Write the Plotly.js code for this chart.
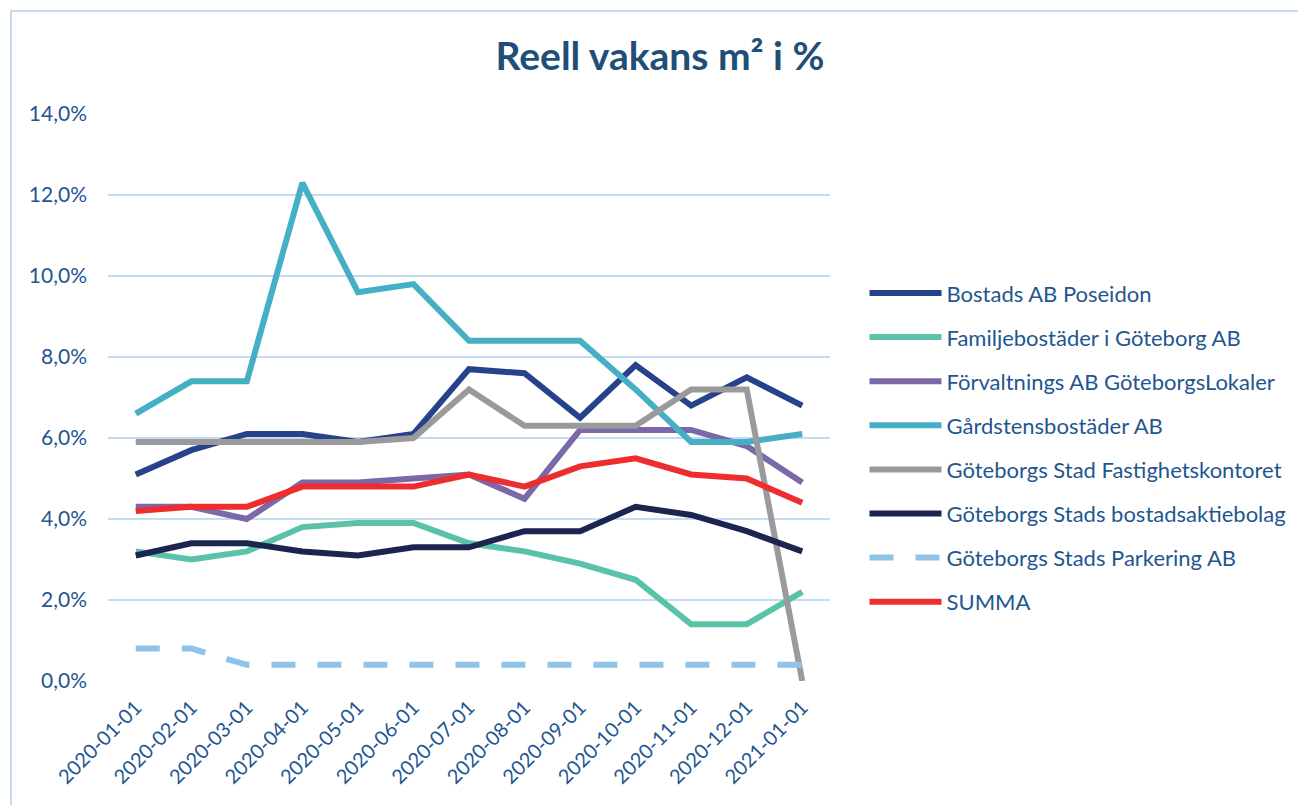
<!DOCTYPE html>
<html>
<head>
<meta charset="utf-8">
<script src="https://cdn.plot.ly/plotly-3.0.1.min.js"></script>
<style>
html,body{margin:0;padding:0;background:#fff;}
#chart{width:1298px;height:805px;}
</style>
</head>
<body>
<div id="chart"></div>
<script>
const dates = ["2020-01-01","2020-02-01","2020-03-01","2020-04-01","2020-05-01","2020-06-01","2020-07-01","2020-08-01","2020-09-01","2020-10-01","2020-11-01","2020-12-01","2021-01-01"];

const poseidon      = [5.1, 5.7, 6.1, 6.1, 5.9, 6.1, 7.7, 7.6, 6.5, 7.8, 6.8, 7.5, 6.8];
const familje       = [3.2, 3.0, 3.2, 3.8, 3.9, 3.9, 3.4, 3.2, 2.9, 2.5, 1.4, 1.4, 2.2];
const forvaltning   = [4.3, 4.3, 4.0, 4.9, 4.9, 5.0, 5.1, 4.5, 6.2, 6.2, 6.2, 5.8, 4.9];
const gardsten      = [6.6, 7.4, 7.4, 12.3, 9.6, 9.8, 8.4, 8.4, 8.4, 7.2, 5.9, 5.9, 6.1];
const fastighet     = [5.9, 5.9, 5.9, 5.9, 5.9, 6.0, 7.2, 6.3, 6.3, 6.3, 7.2, 7.2, 0.0];
const bostadsab     = [3.1, 3.4, 3.4, 3.2, 3.1, 3.3, 3.3, 3.7, 3.7, 4.3, 4.1, 3.7, 3.2];
const parkering     = [0.8, 0.8, 0.4, 0.4, 0.4, 0.4, 0.4, 0.4, 0.4, 0.4, 0.4, 0.4, 0.4];
const summa         = [4.2, 4.3, 4.3, 4.8, 4.8, 4.8, 5.1, 4.8, 5.3, 5.5, 5.1, 5.0, 4.4];

const seriesNames = ["Bostads AB Poseidon","Familjebostäder i Göteborg AB","Förvaltnings AB GöteborgsLokaler","Gårdstensbostäder AB","Göteborgs Stad Fastighetskontoret","Göteborgs Stads bostadsaktiebolag","Göteborgs Stads Parkering AB","SUMMA"];
const seriesValues = [poseidon, familje, forvaltning, gardsten, fastighet, bostadsab, parkering, summa];
const seriesColors = ["#25428A","#5BC2AA","#7B68A6","#45AFC6","#9A9A9C","#1B2550","#90C3E8","#EE2E2E"];
const seriesDash = ["solid","solid","solid","solid","solid","solid","24px,22px","solid"];

const yTicks = [0, 2, 4, 6, 8, 10, 12, 14];

const textColor = "#1F5690";
const gridColor = "#C5DCF0";

const traces = seriesNames.map((n, i) => ({
  type: "scatter",
  mode: "lines",
  name: n,
  x: dates,
  y: seriesValues[i],
  legendgroup: "g" + i,
  line: {color: seriesColors[i], width: 6, dash: seriesDash[i]},
  hoverinfo: "x+y+name"
}));

const layout = {
  width: 1298,
  height: 805,
  margin: {l: 108, r: 468, t: 114, b: 124, autoexpand: false},
  paper_bgcolor: "#fff",
  plot_bgcolor: "#fff",
  font: {family: "Lato, 'Open Sans', sans-serif", color: textColor, size: 18},
  title: {
    text: "<b>Reell vakans m² i %</b>",
    font: {size: 39, color: "#1F4E79", family: "Lato, 'Open Sans', sans-serif"},
    xref: "paper", x: 0.7645, xanchor: "center",
    yref: "container", y: 0.930, yanchor: "middle"
  },
  xaxis: {
    type: "category",
    range: [-0.5, 12.5],
    tickangle: -45,
    showgrid: false,
    zeroline: false,
    showline: false,
    ticks: "",
    ticklabelstandoff: 10,
    tickfont: {size: 20, color: textColor},
    fixedrange: true
  },
  yaxis: {
    range: [0, 14],
    tickvals: yTicks,
    ticktext: yTicks.map(v => v.toFixed(1).replace(".", ",") + "%"),
    showgrid: true,
    gridcolor: gridColor,
    gridwidth: 2,
    zeroline: false,
    showline: false,
    ticks: "",
    ticklabelstandoff: 20,
    tickfont: {size: 21, color: textColor},
    fixedrange: true
  },
  showlegend: true,
  legend: {
    x: 1.0478, xanchor: "left",
    y: 0.721, yanchor: "top",
    font: {size: 22, color: textColor},
    tracegroupgap: 12.5,
    itemwidth: 72,
    bgcolor: "rgba(0,0,0,0)"
  },
  shapes: [{
    type: "rect", xref: "paper", yref: "paper",
    x0: (11 - 108) / 722, x1: 1.8,
    y0: -0.5, y1: (681 - 11) / 567,
    line: {color: gridColor, width: 2},
    fillcolor: "rgba(0,0,0,0)",
    layer: "below"
  }]
};

Plotly.newPlot("chart", traces, layout, {displayModeBar: false, responsive: false});
</script>
</body>
</html>
